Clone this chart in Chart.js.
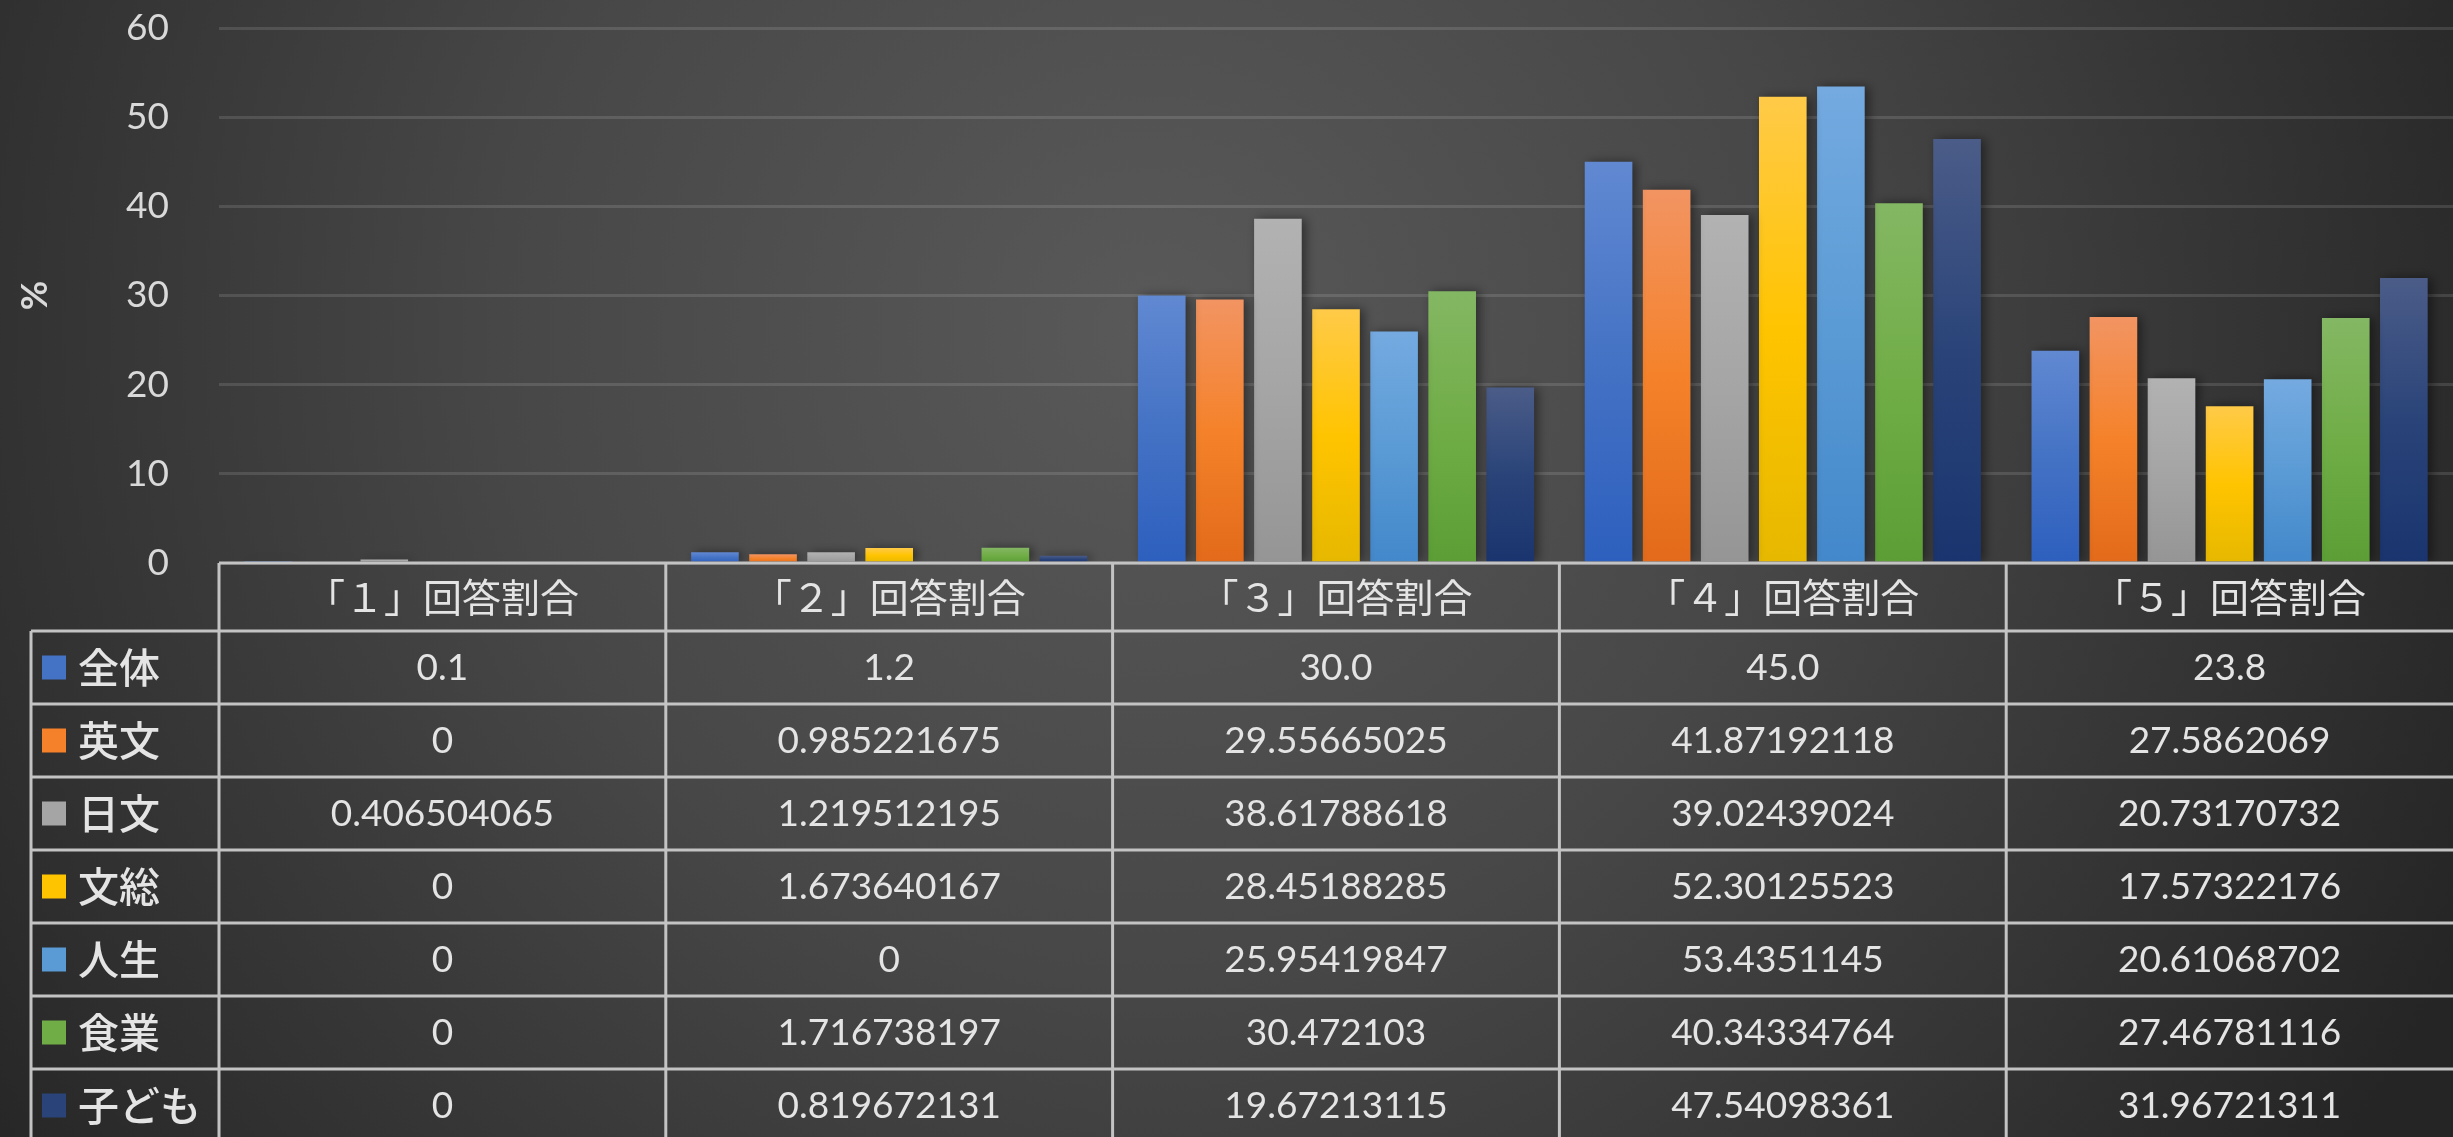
<!DOCTYPE html>
<html lang="ja">
<head>
<meta charset="utf-8">
<script src="https://cdn.jsdelivr.net/npm/chart.js@4.4.1/dist/chart.umd.min.js"></script>
<style>
  html, body { margin: 0; padding: 0; background: #2b2b2b; overflow: hidden; }
  canvas { display: block; }
</style>
</head>
<body>
<canvas id="answerChart" width="2453" height="1137"></canvas>
<script>
// categories (columns of the data table)
const categories = ["「１」回答割合", "「２」回答割合", "「３」回答割合", "「４」回答割合", "「５」回答割合"];

// series names (rows of the data table)
const seriesNames = ["全体", "英文", "日文", "文総", "人生", "食業", "子ども"];

// values, %
const zentai  = [0.1, 1.2, 30.0, 45.0, 23.8];
const eibun   = [0, 0.985221675, 29.55665025, 41.87192118, 27.5862069];
const nichibun = [0.406504065, 1.219512195, 38.61788618, 39.02439024, 20.73170732];
const bunso   = [0, 1.673640167, 28.45188285, 52.30125523, 17.57322176];
const jinsei  = [0, 0, 25.95419847, 53.4351145, 20.61068702];
const shokugyo = [0, 1.716738197, 30.472103, 40.34334764, 27.46781116];
const kodomo  = [0, 0.819672131, 19.67213115, 47.54098361, 31.96721311];
const seriesValues = [zentai, eibun, nichibun, bunso, jinsei, shokugyo, kodomo];

// decimals shown in the table (null = raw value)
const tableDecimals = [1, null, null, null, null, null, null];

// y axis ticks
const yMin = 0, yMax = 60, yStep = 10;

// colours: top / middle / bottom of each bar gradient
const barTop = ["#6189d2", "#f29462", "#b2b2b2", "#ffca48", "#74aae0", "#84b763", "#4b5c88"];
const barMid = ["#4472c4", "#f5822a", "#a5a5a5", "#ffc400", "#5b9bd5", "#70ad47", "#2a4479"];
const barBot = ["#2d5fbe", "#e26a1a", "#959595", "#e6b800", "#4388cb", "#5c9e35", "#1a346f"];

const numFont = "Lato, 'Noto Sans CJK JP', sans-serif";
const cjkFont = "'Noto Sans CJK JP', sans-serif";

function barFill(i) {
  return (c) => {
    const chart = c.chart;
    const ys = chart.scales.y;
    if (!ys || c.raw == null) return barMid[i];
    const top = ys.getPixelForValue(c.raw);
    const bot = ys.getPixelForValue(0);
    if (!isFinite(top) || !isFinite(bot) || bot - top < 2) return barMid[i];
    const g = chart.ctx.createLinearGradient(0, top, 0, bot);
    g.addColorStop(0, barTop[i]);
    g.addColorStop(0.5, barMid[i]);
    g.addColorStop(1, barBot[i]);
    return g;
  };
}

const backgroundPlugin = {
  id: "bg",
  beforeDraw(chart) {
    const { ctx, width, height } = chart;
    ctx.save();
    const g = ctx.createRadialGradient(1150, 330, 0, 1150, 330, 1450);
    g.addColorStop(0, "#595959");
    g.addColorStop(0.45, "#474747");
    g.addColorStop(1, "#252525");
    ctx.fillStyle = g;
    ctx.fillRect(0, 0, width, height);
    ctx.restore();
  },
};

const shadowPlugin = {
  id: "barShadow",
  beforeDatasetDraw(chart) {
    const ctx = chart.ctx;
    ctx.save();
    ctx.shadowColor = "rgba(0,0,0,0.45)";
    ctx.shadowBlur = 10;
    ctx.shadowOffsetX = 4;
    ctx.shadowOffsetY = 0;
  },
  afterDatasetDraw(chart) {
    chart.ctx.restore();
  },
};

// data table under the plot, columns follow the x scale
const tablePlugin = {
  id: "dataTable",
  afterDraw(chart) {
    const { ctx, chartArea, width, height } = chart;
    const xs = chart.scales.x;
    const n = categories.length;
    const colW = (chartArea.right - chartArea.left) / n;
    const top = chartArea.bottom;
    const headH = 68;
    const rowH = 73;
    const tableLeft = 31;

    ctx.save();
    ctx.strokeStyle = "#c3c3c3";
    ctx.lineWidth = 3;
    ctx.beginPath();
    ctx.moveTo(chartArea.left, top);
    ctx.lineTo(width, top);
    for (let r = 0; r < seriesNames.length; r++) {
      const y = top + headH + r * rowH;
      ctx.moveTo(tableLeft, y);
      ctx.lineTo(width, y);
    }
    for (let i = 0; i < n; i++) {
      const x = chartArea.left + i * colW;
      ctx.moveTo(x, top);
      ctx.lineTo(x, height);
    }
    ctx.moveTo(tableLeft, top + headH);
    ctx.lineTo(tableLeft, height);
    ctx.stroke();

    ctx.fillStyle = "#e4e4e4";
    ctx.textBaseline = "middle";
    ctx.textAlign = "center";
    ctx.font = "39px " + cjkFont;
    categories.forEach((c, i) => {
      ctx.fillText(c, xs.getPixelForValue(i), top + headH / 2);
    });

    ctx.font = "37px " + numFont;
    seriesValues.forEach((vals, r) => {
      const cy = top + headH + r * rowH + rowH / 2;
      vals.forEach((v, i) => {
        const d = tableDecimals[r];
        const txt = d == null ? String(v) : v.toFixed(d);
        ctx.fillText(txt, xs.getPixelForValue(i), cy + 1);
      });
    });

    ctx.textAlign = "left";
    ctx.font = "500 41px " + cjkFont;
    seriesNames.forEach((name, r) => {
      const cy = top + headH + r * rowH + rowH / 2;
      ctx.fillStyle = barMid[r];
      ctx.fillRect(42, cy - 12, 24, 24);
      ctx.fillStyle = "#e4e4e4";
      ctx.fillText(name, 78, cy);
    });
    ctx.restore();
  },
};

const ctx = document.getElementById("answerChart").getContext("2d");
const answerChart = new Chart(ctx, {
  type: "bar",
  data: {
    labels: categories,
    datasets: seriesNames.map((name, i) => ({
      label: name,
      data: seriesValues[i],
      backgroundColor: barFill(i),
      borderWidth: 0,
      barPercentage: 0.82,
      categoryPercentage: 0.91,
    })),
  },
  options: {
    responsive: false,
    animation: false,
    devicePixelRatio: 1,
    layout: { padding: { top: 28, right: 0, bottom: 574, left: 0 } },
    plugins: {
      legend: { display: false },
      tooltip: { enabled: false },
    },
    scales: {
      x: { display: false },
      y: {
        min: yMin,
        max: yMax,
        afterFit: (s) => { s.width = 219; s.paddingTop = 0; s.paddingBottom = 0; },
        border: { display: false },
        grid: { color: "rgba(255,255,255,0.12)", lineWidth: 3, drawTicks: false },
        ticks: {
          stepSize: yStep,
          padding: 50,
          color: "#d9d9d9",
          font: { family: numFont, size: 37 },
        },
        title: {
          display: true,
          text: "%",
          color: "#d9d9d9",
          padding: { top: 14, bottom: 0 },
          font: { family: numFont, size: 36, weight: "bold" },
        },
      },
    },
  },
  plugins: [backgroundPlugin, shadowPlugin, tablePlugin],
});
</script>
</body>
</html>
